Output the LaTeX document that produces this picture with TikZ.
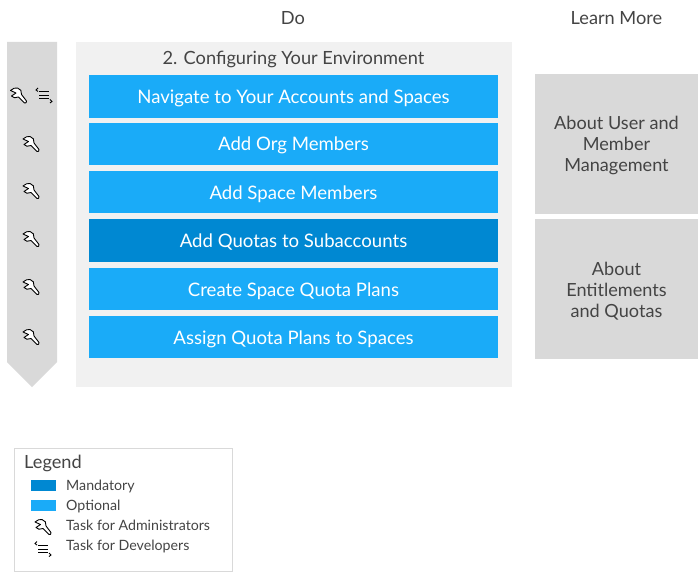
\documentclass[tikz,border=0pt]{standalone}
\usepackage{fontspec}
\setmainfont{Lato}
\usetikzlibrary{calc}
\definecolor{optblue}{HTML}{1AABF8}
\definecolor{mandblue}{HTML}{0088D2}
\definecolor{panelgray}{HTML}{F1F1F1}
\definecolor{sidegray}{HTML}{D9D9D9}
\definecolor{textgray}{HTML}{444444}
\tikzset{
  taskbox/.style={fill=optblue,text=white,minimum width=409pt,text height=17.5pt,text depth=3.5pt,font=\fontsize{18.6}{20}\selectfont},
  learnbox/.style={fill=sidegray,text=textgray,minimum width=163pt,minimum height=140pt,align=center,font=\fontsize{18.1}{21}\selectfont},
  heading/.style={text=textgray,font=\fontsize{18.2}{20}\selectfont},
  legendtext/.style={anchor=west,text=textgray,inner sep=0pt,font=\fontsize{14.2}{16}\selectfont},
  swatch/.style={minimum width=25pt,minimum height=11pt,inner sep=0pt},
  pics/wrench/.style={code={
    \draw[black,line width=0.9pt,line join=round,fill=white] (-8,-5) -- (-2.5,-2.5) -- (-7,0.5)
      .. controls (-6,2.5) and (-2.5,2.8) .. (0,1.5) -- (6,7.5) .. controls (7,8.3) and (8.5,6.8) .. (8,5.5)
      -- (3,-1) .. controls (3.5,-4) and (2,-7) .. (-1,-7.5) .. controls (-3,-8) and (-6,-7) .. (-8,-5) -- cycle;
  }},
  pics/devlist/.style={code={
    \draw[black,line width=1pt] (-5,-3.5) -- (5,-3.5) (-5,0) -- (5,0) (-5,3.5) -- (5,3.5);
    \draw[black,line width=0.9pt] (-6,-7.5) -- (-8,-5.5) -- (-6,-4) (6,4) -- (8,6) -- (6,7.5);
  }}
}
\begin{document}
\begin{tikzpicture}[x=1pt,y=-1pt]
  \useasboundingbox (0,0) rectangle (698,580);
  % Headings
  \node[heading] (do) at (293,18) {Do};
  \node[heading] (learn) at (616.5,18) {Learn More};
  % Side arrow and panel
  \fill[sidegray] (7,42) -- (57,42) -- (57,362) -- (32,387) -- (7,362) -- cycle;
  \fill[panelgray] (76,42) rectangle (512,387);
  \node[heading] (title) at (293.5,59) {2. Configuring Your Environment};
  % Task boxes
  \foreach \name/\y/\h/\txt in {nav/96.5/43/Navigate to Your Accounts and Spaces,
      org/144/42/Add Org Members,
      space/192/42/Add Space Members,
      plans/289/42/Create Space Quota Plans,
      assign/337/42/Assign Quota Plans to Spaces}
  {
    \node[taskbox,minimum height=\h pt] (\name) at (293.5,\y) {\txt};
  }
  \node[taskbox,fill=mandblue,minimum height=43pt] (quota) at (293.5,240.5) {Add Quotas to Subaccounts};
  % Icons on the side arrow
  \foreach \x/\y in {18.5/95.5,31/144,31/191,31/239,31/287,31/337}
  {
    \pic at (\x,\y) {wrench};
  }
  \pic at (44,95.5) {devlist};
  % Learn more boxes
  \node[learnbox] (users) at (616.5,144) {\rule{0pt}{17pt}About User and\\Member\\Management};
  \node[learnbox] (quotas) at (616.5,289) {\rule{0pt}{17pt}About\\Entitlements\\and Quotas};
  % Legend
  \draw[sidegray] (14.5,448.5) rectangle (232.5,571);
  \node[heading,anchor=west,inner sep=0pt] (legend) at (24,463) {Legend};
  \node[swatch,fill=mandblue] (mand) at (43.5,485.5) {};
  \node[swatch,fill=optblue] (opt) at (43.5,505.5) {};
  \node[legendtext] (mandtxt) at (66,486) {Mandatory};
  \node[legendtext] (opttxt) at (66,506) {Optional};
  \node[legendtext] (admintxt) at (66,525.5) {Task for Administrators};
  \node[legendtext] (devtxt) at (66,546) {Task for Developers};
  \pic at (43,527) {wrench};
  \pic at (43,549) {devlist};
\end{tikzpicture}
\end{document}
